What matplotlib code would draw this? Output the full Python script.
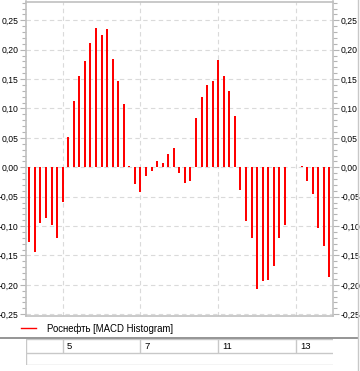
import numpy as np
import matplotlib
matplotlib.use("Agg")
import matplotlib.pyplot as plt
from matplotlib.lines import Line2D
from matplotlib.ticker import MultipleLocator, FuncFormatter

plt.rcParams['font.family'] = ['Liberation Sans', 'DejaVu Sans']

# MACD histogram values, one per bar
macd_hist = [-0.127, -0.144, -0.094, -0.086, -0.099, -0.120, -0.059,
             0.051, 0.113, 0.155, 0.181, 0.211, 0.237, 0.225, 0.235,
             0.184, 0.147, 0.108, 0.003, -0.028, -0.042, -0.014, -0.006,
             0.010, 0.007, 0.023, 0.032, -0.010, -0.027, -0.023,
             0.084, 0.120, 0.140, 0.147, 0.183, 0.156, 0.130, 0.088,
             -0.039, -0.091, -0.120, -0.207, -0.193, -0.192, -0.168,
             -0.120, -0.098, 0.0, 0.0, 0.003, -0.023, -0.045, -0.103,
             -0.134, -0.187]
# day labels and the bar index where each day starts
day_labels = ['5', '7', '11', '13']
day_index = [6, 20, 34, 48]
series_name = 'Роснефть [MACD Histogram]'

W, H = 360, 371
fig = plt.figure(figsize=(W / 100, H / 100), dpi=100)
fig.patch.set_facecolor('white')

def fx(px):
    return px / W

def fy(py):
    return 1 - py / H

ax = fig.add_axes([fx(26), fy(316), fx(333 - 26), (316 - 1.5) / H])
x = np.arange(len(macd_hist))
ax.vlines(x, 0, macd_hist, color='#ff0000', lw=1.44, zorder=3)

ax.set_xlim(-0.6, len(macd_hist) - 1 + 0.67)
ax.set_ylim(-0.253, 0.282)

grid_col = '#dadada'
ax.set_xticks(day_index)
ax.yaxis.set_major_locator(MultipleLocator(0.05))
ax.yaxis.set_minor_locator(MultipleLocator(0.01))
ax.grid(True, color=grid_col, ls=(0, (4, 3)), lw=0.8)
ax.tick_params(axis='x', length=0, labelbottom=False)
ax.tick_params(axis='y', which='both', left=True, right=True,
               labelleft=True, labelright=True, color='#b4b4b4',
               labelsize=6.2, pad=1.0, width=0.8)
ax.tick_params(axis='y', which='major', length=4.3)
ax.tick_params(axis='y', which='minor', length=2.9)
# comma decimal separator, plain hyphen for negatives
ax.yaxis.set_major_formatter(FuncFormatter(lambda v, p: f'{v:.2f}'.replace('.', ',').replace('-0,00', '0,00')))
for s in ax.spines.values():
    s.set_color('#c0c0c0')
    s.set_linewidth(1.2)

# legend line + text
fig.add_artist(Line2D([fx(20.7), fx(36)], [fy(328.3)] * 2, color='#ff0000', lw=1.0))
fig.text(fx(46.5), fy(328.3), series_name, fontsize=6.9, va='center', ha='left')

# separator and right border
fig.add_artist(Line2D([0, fx(358)], [fy(337.5)] * 2, color='#8c8c8c', lw=1.3))
fig.add_artist(Line2D([fx(357.5)] * 2, [0, 1], color='#c8c8c8', lw=1.0))

# date table under the chart
ax2 = fig.add_axes([fx(26), fy(365.3), fx(333 - 26), (365.3 - 339.3) / H])
ax2.set_xlim(ax.get_xlim())
ax2.set_ylim(0, 1)
ax2.axis('off')
tcol = '#c8c8c8'
ax2.axhline(1, color=tcol, lw=1.0)
ax2.axhline(0.48, color=tcol, lw=1.0)
ax2.axhline(0, color=tcol, lw=1.0)
ax2.axvline(ax.get_xlim()[0], color=tcol, lw=1.0)
ax2.vlines(day_index, 0.48, 1, color=tcol, lw=1.0)
for xi, lab in zip(day_index, day_labels):
    ax2.text(xi + 0.75, 0.73, lab, fontsize=6.8, va='center', ha='left')

fig.savefig('out.png', dpi=100, facecolor='white')
